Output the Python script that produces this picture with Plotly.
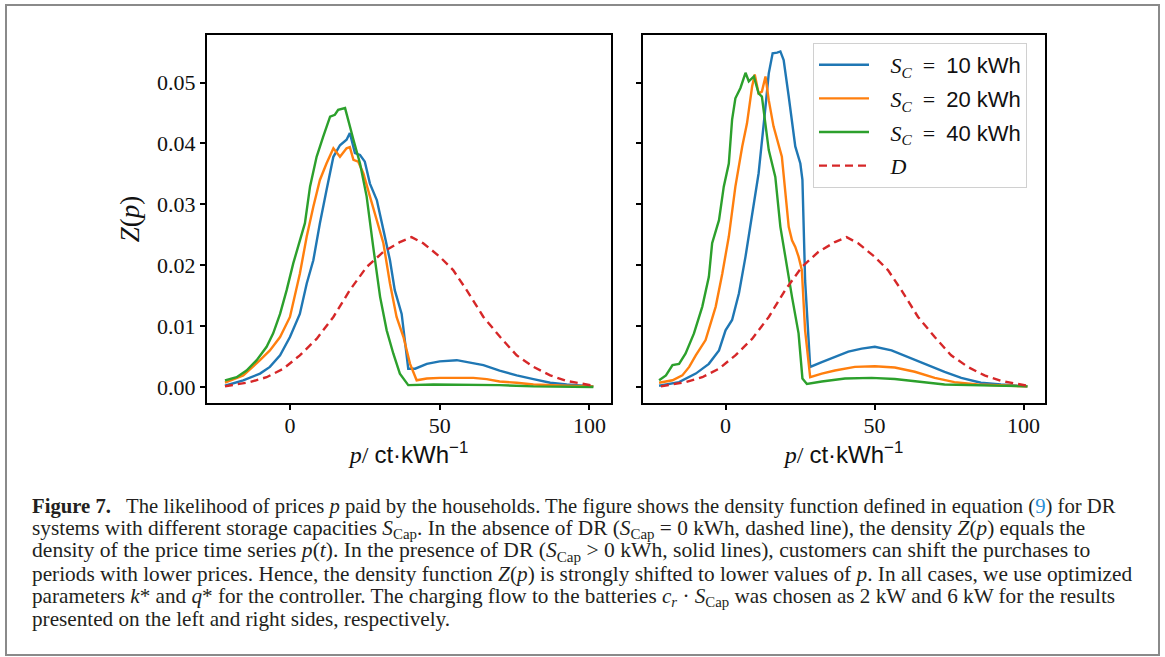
import plotly.graph_objects as go

# ---------------- data ----------------
# Left panel (charging flow 2 kW)
p_l10 = [-21.7, -15.6, -10.0, -6.7, -3.3, 0.0, 3.3, 5.6, 7.8, 10.0, 12.2, 14.5, 16.7, 18.9, 20.0, 21.7, 23.4, 25.0, 26.7, 29.0, 31.2, 33.4, 35.0, 37.3, 39.5, 41.8, 45.7, 50.0, 55.7, 60.0, 64.6, 70.0, 75.7, 81.3, 86.9, 92.4, 101.3]
z_l10 = [0.0002, 0.0011, 0.0022, 0.0033, 0.0052, 0.0082, 0.0120, 0.0170, 0.0208, 0.0269, 0.0323, 0.0378, 0.0397, 0.0406, 0.0417, 0.0384, 0.0381, 0.0370, 0.0334, 0.0307, 0.0258, 0.0208, 0.0159, 0.0120, 0.0030, 0.0030, 0.0038, 0.0042, 0.0044, 0.0040, 0.0036, 0.0027, 0.0019, 0.0013, 0.0007, 0.0004, 0.0001]

p_l20 = [-21.7, -15.6, -10.0, -6.7, -3.3, 0.0, 3.3, 5.6, 7.8, 10.0, 12.2, 14.5, 16.7, 18.9, 20.0, 21.2, 22.8, 24.5, 26.7, 29.0, 31.2, 33.4, 35.6, 37.9, 40.1, 42.3, 45.7, 50.0, 55.7, 61.2, 65.7, 70.0, 75.7, 81.3, 92.4, 101.3]
z_l20 = [0.0007, 0.0019, 0.0044, 0.0060, 0.0082, 0.0115, 0.0186, 0.0247, 0.0296, 0.0340, 0.0367, 0.0392, 0.0378, 0.0392, 0.0394, 0.0373, 0.0370, 0.0351, 0.0313, 0.0274, 0.0236, 0.0170, 0.0115, 0.0082, 0.0038, 0.0011, 0.0014, 0.0015, 0.0015, 0.0015, 0.0013, 0.0009, 0.0007, 0.0004, 0.0002, 0.0001]

p_l40 = [-21.7, -17.8, -14.5, -11.1, -7.8, -5.6, -3.3, -1.1, 1.1, 3.3, 5.0, 6.7, 8.9, 11.1, 13.4, 15.0, 16.1, 18.4, 19.5, 21.2, 23.4, 25.6, 27.8, 30.1, 32.3, 34.5, 36.7, 39.5, 47.9, 59.0, 70.0, 81.3, 101.3]
z_l40 = [0.0011, 0.0016, 0.0027, 0.0044, 0.0066, 0.0088, 0.0120, 0.0159, 0.0203, 0.0241, 0.0269, 0.0329, 0.0378, 0.0411, 0.0444, 0.0447, 0.0455, 0.0458, 0.0439, 0.0406, 0.0367, 0.0313, 0.0230, 0.0148, 0.0093, 0.0055, 0.0022, 0.0003, 0.0004, 0.0004, 0.0003, 0.0001, 0.0000]

# Reference density D (no demand response), same in both panels
p_d = [-21.7, -13.4, -7.8, -2.2, 3.3, 8.9, 14.5, 20.0, 25.6, 31.2, 36.7, 40.6, 44.5, 50.0, 54.5, 59.0, 64.6, 70.2, 75.7, 81.3, 86.9, 92.4, 101.3]
z_d = [0.0001, 0.0008, 0.0016, 0.0030, 0.0052, 0.0079, 0.0115, 0.0159, 0.0197, 0.0222, 0.0238, 0.0246, 0.0236, 0.0214, 0.0192, 0.0159, 0.0115, 0.0082, 0.0052, 0.0033, 0.0019, 0.0010, 0.0002]

# Right panel (charging flow 6 kW)
p_r10 = [-22.3, -15.6, -10.0, -5.6, -2.2, 0.0, 2.2, 4.5, 6.7, 8.9, 11.1, 13.4, 14.5, 15.8, 17.3, 18.4, 19.5, 21.2, 23.4, 25.1, 25.8, 26.7, 28.4, 32.3, 36.7, 41.2, 45.7, 50.1, 55.7, 61.2, 67.9, 73.5, 79.1, 85.7, 92.4, 101.3]
z_r10 = [0.0002, 0.0008, 0.0022, 0.0038, 0.0060, 0.0093, 0.0110, 0.0154, 0.0214, 0.0280, 0.0351, 0.0460, 0.0515, 0.0548, 0.0549, 0.0551, 0.0537, 0.0477, 0.0395, 0.0367, 0.0340, 0.0175, 0.0033, 0.0041, 0.0049, 0.0058, 0.0063, 0.0066, 0.0060, 0.0049, 0.0036, 0.0025, 0.0015, 0.0007, 0.0004, 0.0001]

p_r20 = [-22.3, -17.8, -14.5, -12.2, -10.0, -6.7, -3.3, -1.1, 1.1, 3.3, 5.6, 7.2, 8.9, 9.8, 11.1, 12.2, 13.4, 14.5, 16.1, 18.9, 21.2, 22.3, 23.4, 24.5, 25.6, 26.7, 28.4, 32.3, 36.7, 43.4, 50.1, 56.8, 63.5, 70.2, 76.8, 84.6, 101.3]
z_r20 = [0.0007, 0.0011, 0.0019, 0.0033, 0.0052, 0.0077, 0.0132, 0.0186, 0.0247, 0.0329, 0.0395, 0.0433, 0.0493, 0.0513, 0.0482, 0.0485, 0.0510, 0.0471, 0.0428, 0.0378, 0.0263, 0.0241, 0.0230, 0.0214, 0.0192, 0.0093, 0.0016, 0.0022, 0.0027, 0.0033, 0.0034, 0.0032, 0.0025, 0.0015, 0.0008, 0.0004, 0.0001]

p_r40 = [-22.3, -20.0, -17.8, -15.6, -13.4, -10.6, -7.8, -5.6, -4.5, -2.2, -0.6, 1.1, 2.2, 3.3, 5.0, 6.7, 7.8, 9.5, 11.1, 12.2, 14.5, 16.7, 18.4, 20.0, 22.3, 24.5, 25.8, 27.3, 32.3, 40.1, 49.0, 56.8, 65.7, 73.5, 101.3]
z_r40 = [0.0011, 0.0019, 0.0036, 0.0038, 0.0055, 0.0088, 0.0132, 0.0181, 0.0236, 0.0274, 0.0329, 0.0367, 0.0439, 0.0474, 0.0491, 0.0516, 0.0502, 0.0510, 0.0482, 0.0477, 0.0389, 0.0345, 0.0263, 0.0214, 0.0148, 0.0088, 0.0014, 0.0005, 0.0009, 0.0014, 0.0015, 0.0013, 0.0008, 0.0004, 0.0001]

capacities = ["10", "20", "40"]
colors = ["#1f77b4", "#ff7f0e", "#2ca02c"]
d_color = "#d62728"

x_ticks = [0, 50, 100]
y_ticks = [0.00, 0.01, 0.02, 0.03, 0.04, 0.05]

caption_lines = [
    "<b>Figure 7.</b>&nbsp;&nbsp; The likelihood of prices <i>p</i> paid by the households. The figure shows the density function defined in equation (<span style='color:#2a8fd6'>9</span>) for DR",
    "systems with different storage capacities <i>S</i><sub>Cap</sub>. In the absence of DR (<i>S</i><sub>Cap</sub> = 0 kWh, dashed line), the density <i>Z</i>(<i>p</i>) equals the",
    "density of the price time series <i>p</i>(<i>t</i>). In the presence of DR (<i>S</i><sub>Cap</sub> &gt; 0 kWh, solid lines), customers can shift the purchases to",
    "periods with lower prices. Hence, the density function <i>Z</i>(<i>p</i>) is strongly shifted to lower values of <i>p</i>. In all cases, we use optimized",
    "parameters <i>k</i>* and <i>q</i>* for the controller. The charging flow to the batteries <i>c<sub>r</sub></i> · <i>S</i><sub>Cap</sub> was chosen as 2 kW and 6 kW for the results",
    "presented on the left and right sides, respectively.",
]

# ---------------- figure ----------------
W, H = 1165, 657
fig = go.Figure()

left = [(p_l10, z_l10), (p_l20, z_l20), (p_l40, z_l40)]
right = [(p_r10, z_r10), (p_r20, z_r20), (p_r40, z_r40)]

SANS = "Liberation Sans"
SERIF = "Liberation Serif"
PAD = "&nbsp;&nbsp;&nbsp;"

def label(cap):
    return (PAD + "<i>S</i><sub><i>C</i></sub>&nbsp; =&nbsp; "
            f"<span style='font-family:{SANS}'>{cap} kWh</span>")

LW = 2.4
for i, (px, pz) in enumerate(left):
    fig.add_trace(go.Scatter(x=px, y=pz, mode="lines", xaxis="x", yaxis="y",
                             line=dict(color=colors[i], width=LW),
                             showlegend=False, legendgroup=f"g{i}"))
fig.add_trace(go.Scatter(x=p_d, y=z_d, mode="lines", xaxis="x", yaxis="y",
                         line=dict(color=d_color, width=LW, dash="8px,5px"),
                         showlegend=False, legendgroup="gd"))

for i, (px, pz) in enumerate(right):
    fig.add_trace(go.Scatter(x=px, y=pz, mode="lines", xaxis="x2", yaxis="y2",
                             line=dict(color=colors[i], width=LW),
                             name=label(capacities[i]), legendgroup=f"g{i}"))
fig.add_trace(go.Scatter(x=p_d, y=z_d, mode="lines", xaxis="x2", yaxis="y2",
                         line=dict(color=d_color, width=LW, dash="8px,5px"),
                         name=PAD + "<i>D</i>", legendgroup="gd"))

x_rng = [-27.7, 107.2]
y_rng = [-0.00263, 0.0578]
ydom = [1 - 403 / H, 1 - 35 / H]

axis_common = dict(showline=True, mirror=True, linecolor="black", linewidth=2,
                   ticks="outside", ticklen=5, tickwidth=1.5, tickcolor="black",
                   showgrid=False, zeroline=False,
                   tickfont=dict(family=SERIF, size=22, color="#111"))

xtitle = dict(text=f"<i>p</i>/ <span style='font-family:{SANS}'>ct·kWh<sup>−1</sup></span>",
              font=dict(family=SERIF, size=24, color="#111"), standoff=6)

fig.update_layout(
    width=W, height=H,
    margin=dict(l=0, r=0, t=0, b=0),
    paper_bgcolor="white", plot_bgcolor="white",
    xaxis=dict(domain=[207 / W, 611 / W], range=x_rng, tickvals=x_ticks,
               anchor="y", title=xtitle, ticklabelstandoff=-3, **axis_common),
    yaxis=dict(domain=ydom, range=y_rng, tickvals=y_ticks, tickformat=".2f",
               anchor="x",
               title=dict(text="<i>Z</i>(<i>p</i>)",
                          font=dict(family=SERIF, size=27, color="#111"), standoff=10),
               **axis_common),
    xaxis2=dict(domain=[643 / W, 1045 / W], range=x_rng, tickvals=x_ticks,
                anchor="y2", title=xtitle, ticklabelstandoff=-3, **axis_common),
    yaxis2=dict(domain=ydom, range=y_rng, tickvals=y_ticks, anchor="x2",
                showticklabels=False, **axis_common),
    legend=dict(x=813 / W, y=1 - 43 / H, xanchor="left", yanchor="top",
                bgcolor="rgba(255,255,255,0.9)", bordercolor="#d0d0d0", borderwidth=1,
                font=dict(family=SERIF, size=22, color="#111"),
                tracegroupgap=2, itemwidth=50),
    shapes=[dict(type="rect", xref="paper", yref="paper",
                 x0=6 / W, x1=1159 / W, y0=1 - 655 / H, y1=1 - 5 / H,
                 line=dict(color="#8a8a8a", width=2), layer="below")],
)

cap_y = [506, 529, 551, 574, 597, 619]
cap_size = [20.7, 21.3, 21.6, 21.3, 21.2, 21.2]
for txt, yy, fs in zip(caption_lines, cap_y, cap_size):
    fig.add_annotation(text=txt, xref="paper", yref="paper", x=30 / W, y=1 - yy / H,
                       xanchor="left", yanchor="middle", showarrow=False,
                       font=dict(family=SERIF, size=fs, color="#231f20"))

fig.write_html("out.html", config={"displayModeBar": False},
               post_script="document.body.style.margin='0';document.body.style.overflow='hidden';")
